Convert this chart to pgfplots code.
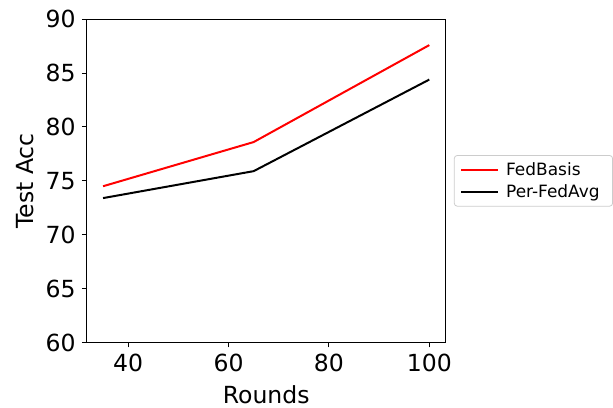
\documentclass[border=0pt]{standalone}
\usepackage{fontspec}
\setmainfont{DejaVu Sans}
\usepackage{pgfplots}
\pgfplotsset{compat=1.18}

\definecolor{fbred}{HTML}{FF0000}

\begin{document}
\begin{tikzpicture}
\begin{axis}[
  scale only axis,
  width=359.7pt, height=324pt,
  xmin=31.75, xmax=103.25,
  ymin=60, ymax=90,
  xtick={40,60,80,100},
  ytick={60,65,70,75,80,85,90},
  axis line style={line width=1pt},
  tick style={line width=1pt, black},
  tick align=outside,
  major tick length=5pt,
  xtick pos=bottom, ytick pos=left,
  /pgf/number format/assume math mode=true,
  tick label style={font=\fontsize{23.6}{28}\selectfont, inner sep=0pt},
  xticklabel style={yshift=-6pt},
  yticklabel style={xshift=-6pt},
  xlabel={Rounds},
  ylabel={Test Acc},
  every axis x label/.style={at={(rel axis cs:0.5,0)}, anchor=center, yshift=-52pt,
    font=\fontsize{23.6}{28}\selectfont},
  every axis y label/.style={at={(rel axis cs:0,0.5)}, anchor=center, xshift=-62.3pt, rotate=90,
    font=\fontsize{23.6}{28}\selectfont},
  clip=false,
  legend style={
    at={(rel axis cs:1,0.5)}, anchor=west, xshift=8.3pt,
    draw=black!20, rounded corners=3pt, line width=0.8pt,
    font=\fontsize{17}{20}\selectfont,
    row sep=4pt, inner xsep=6pt, inner ysep=5pt,
    nodes={inner xsep=7pt},
  },
  legend cell align=left,
  legend image code/.code={\draw[#1, line width=2pt] (0pt,0pt) -- (37pt,0pt);},
]
\addplot[color=fbred, line width=2pt] coordinates {(35,74.5) (65,78.6) (100,87.6)};
\addlegendentry{FedBasis}
\addplot[color=black, line width=2pt] coordinates {(35,73.4) (65,75.9) (100,84.4)};
\addlegendentry{Per-FedAvg}
\path (rel axis cs:0,0) ++(-87pt,-65.7pt) rectangle ++(613pt,409pt);
\end{axis}
\end{tikzpicture}
\end{document}
